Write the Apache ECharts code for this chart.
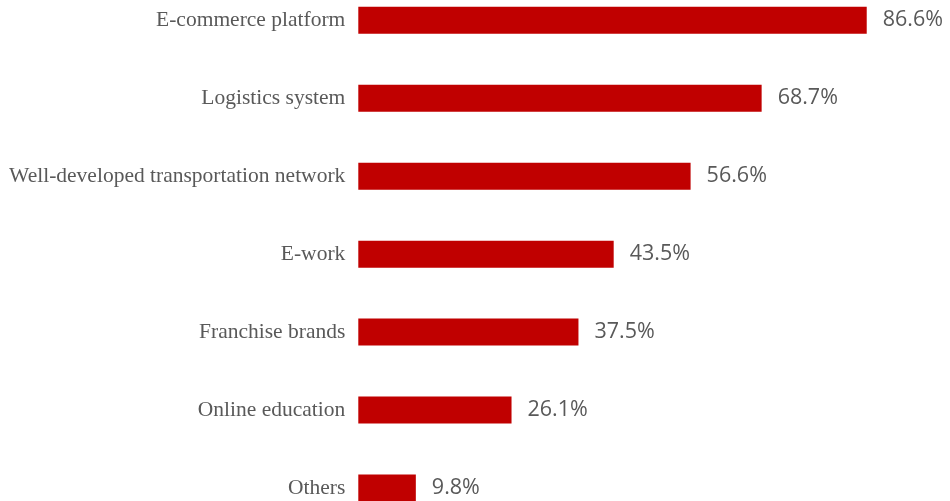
<!DOCTYPE html>
<html>
<head>
<meta charset="utf-8">
<script src="https://cdn.jsdelivr.net/npm/echarts@6/dist/echarts.min.js"></script>
<style>
  html, body { margin: 0; padding: 0; background: #ffffff; }
  #chart { width: 950px; height: 501px; }
</style>
</head>
<body>
<div id="chart"></div>
<script>
// Categories listed top to bottom
const categories = [
  'E-commerce platform',
  'Logistics system',
  'Well-developed transportation network',
  'E-work',
  'Franchise brands',
  'Online education',
  'Others'
];
// Share of respondents (%)
const shares = [86.6, 68.7, 56.6, 43.5, 37.5, 26.1, 9.8];

const chart = echarts.init(document.getElementById('chart'), null, { renderer: 'canvas' });

chart.setOption({
  animation: false,
  backgroundColor: '#ffffff',
  grid: {
    left: 358.3,
    top: 20.3,
    width: 587.1,
    height: 467.7,
    containLabel: false
  },
  xAxis: {
    type: 'value',
    min: 0,
    max: 100,
    show: false
  },
  yAxis: {
    type: 'category',
    inverse: true,
    boundaryGap: false,
    data: categories,
    axisLine: { show: false },
    axisTick: { show: false },
    splitLine: { show: false },
    axisLabel: {
      margin: 13,
      fontFamily: 'Liberation Serif',
      fontSize: 21.5,
      color: '#595959'
    }
  },
  series: [{
    type: 'bar',
    data: shares,
    barWidth: 27,
    itemStyle: { color: '#C00000' },
    label: {
      show: true,
      position: 'right',
      distance: 16,
      fontFamily: 'Open Sans',
      fontSize: 21.5,
      color: '#595959',
      formatter: p => p.value.toFixed(1) + '%'
    }
  }]
});
</script>
</body>
</html>
